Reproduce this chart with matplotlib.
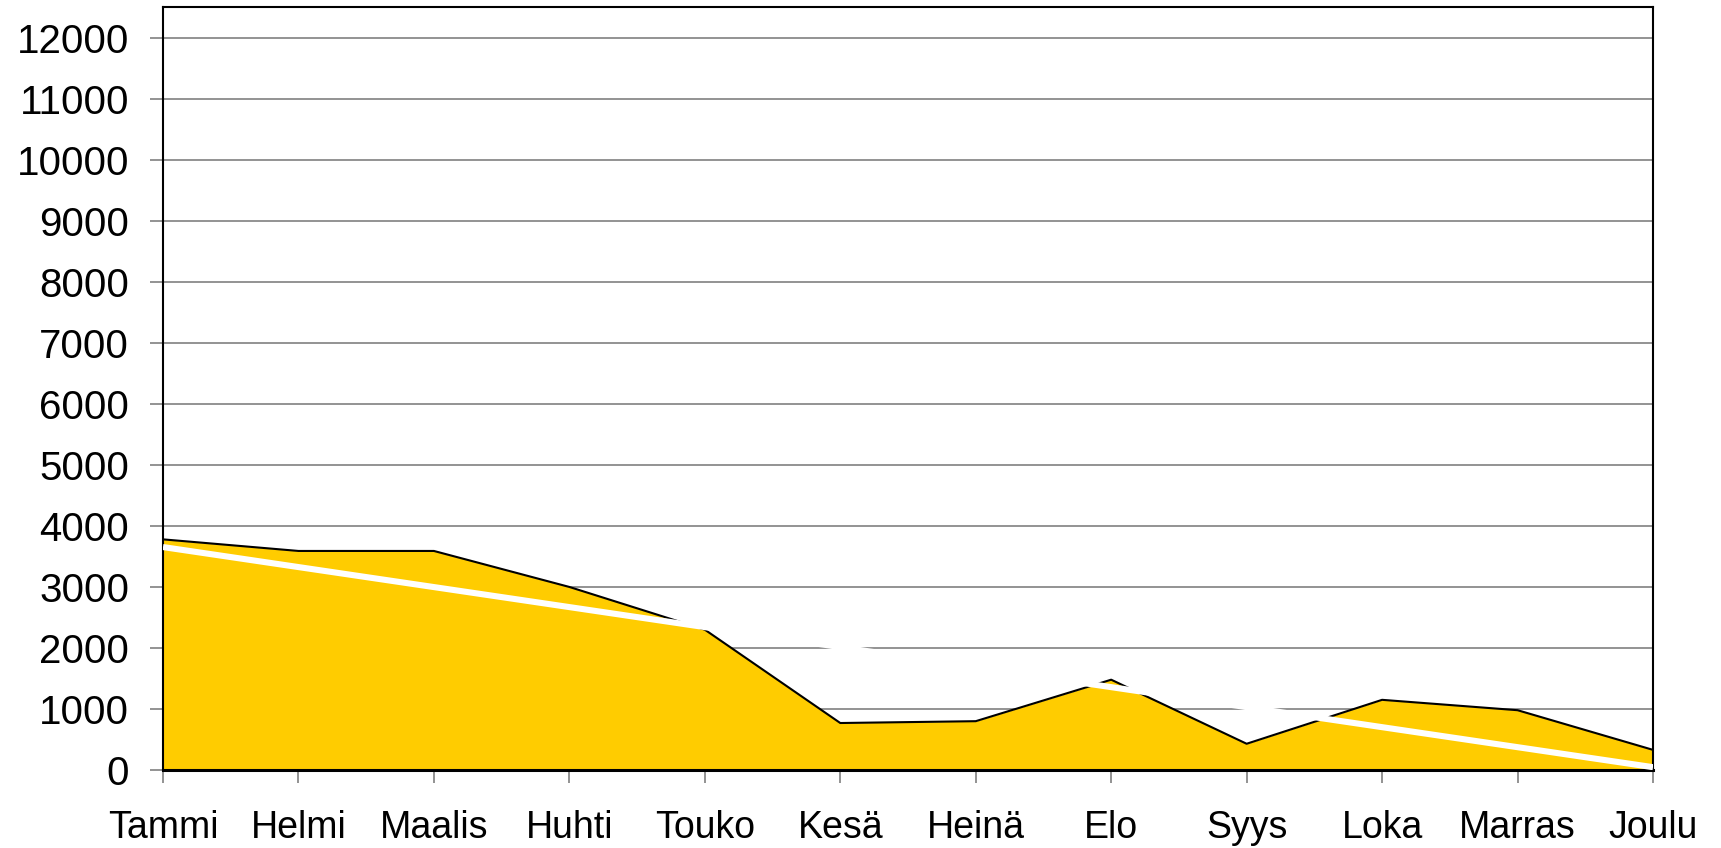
import matplotlib
matplotlib.use("Agg")
import matplotlib.pyplot as plt
import numpy as np

months = ["Tammi", "Helmi", "Maalis", "Huhti", "Touko", "Kesä", "Heinä",
          "Elo", "Syys", "Loka", "Marras", "Joulu"]
values = [3780, 3590, 3590, 3000, 2300, 770, 800, 1480, 430, 1150, 980, 330]
y_ticks = list(range(0, 13000, 1000))

plt.rcParams['font.family'] = ['Liberation Sans', 'DejaVu Sans']

fig = plt.figure(figsize=(17.21, 8.48), dpi=100)
ax = fig.add_axes([163 / 1721, 1 - 770 / 848, (1653 - 163) / 1721, (770 - 7.3) / 848])

x = np.arange(len(months))
ax.fill_between(x, values, 0, color="#FFCC00", linewidth=0, zorder=2)
ax.plot(x, values, color="black", linewidth=1.5, zorder=3)

# linear trend line
coef = np.polyfit(x, values, 1)
trend = np.polyval(coef, x)
ax.plot(x, trend, color="white", linewidth=4.4, zorder=4, solid_capstyle="butt")

ax.set_xlim(0, len(months) - 1)
ax.set_ylim(0, 12500)
ax.set_yticks(y_ticks)
ax.set_xticks(x)
ax.set_xticklabels(months)
ax.yaxis.grid(True, color="#808080", linewidth=1.2, zorder=1)
ax.set_axisbelow(True)

ax.tick_params(axis="y", direction="out", length=9.5, width=1.2, color="#808080",
               labelsize=29, pad=15)
ax.tick_params(axis="x", direction="out", length=9, width=1.2, color="#808080",
               labelsize=27, pad=20)

for s in ["top", "left", "right"]:
    ax.spines[s].set_color("black")
    ax.spines[s].set_linewidth(1.5)
ax.spines["bottom"].set_color("black")
ax.spines["bottom"].set_linewidth(2.2)
ax.spines["bottom"].set_zorder(3.5)

fig.savefig("out.png", dpi=100)
